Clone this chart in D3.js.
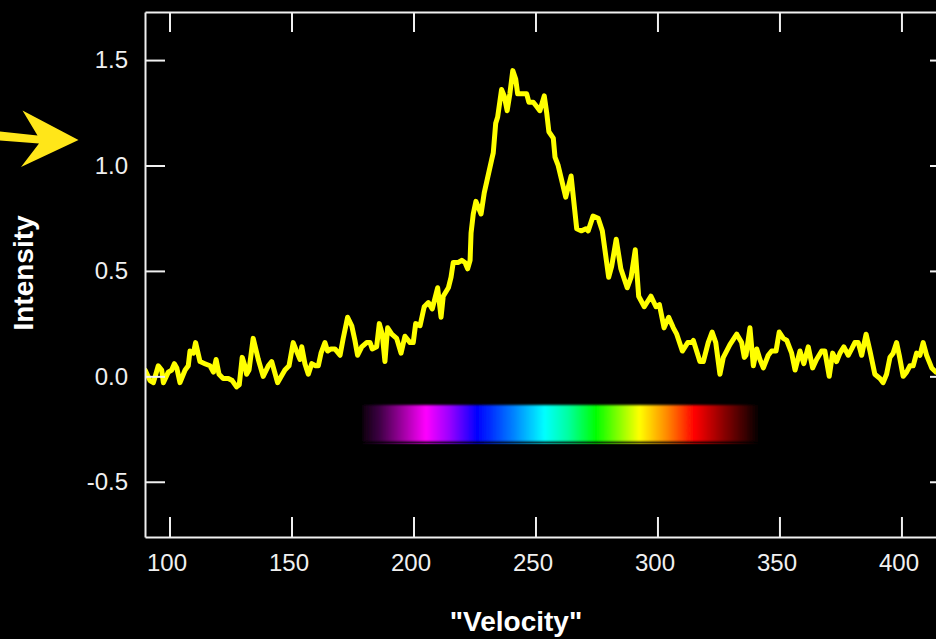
<!DOCTYPE html>
<html>
<head>
<meta charset="utf-8">
<script src="https://cdn.jsdelivr.net/npm/d3@7"></script>
<style>
  html, body { margin: 0; padding: 0; background: #000; }
  svg { display: block; }
</style>
</head>
<body>
<svg id="chart" width="936" height="639"></svg>
<script>
// ---------------- data ----------------
const velocity = [
  90.0, 92.0, 93.4, 95.4, 96.8, 97.5, 99.5, 100.9, 102.0, 103.0,
  104.3, 106.4, 107.7, 108.4, 109.8, 110.7, 112.5, 114.5, 116.6, 118.0,
  119.1, 120.3, 122.0, 124.1, 125.7, 127.5, 128.6, 129.8, 130.9, 131.6,
  132.6, 134.3, 136.4, 138.4, 140.5, 141.9, 144.3, 147.3, 149.0, 150.7,
  152.4, 153.5, 154.2, 155.5, 156.9, 158.3, 159.9, 161.0, 162.1, 163.7,
  164.8, 166.2, 167.8, 169.9, 171.2, 173.0, 174.7, 176.0, 177.1, 178.8,
  180.8, 182.2, 183.1, 184.9, 186.0, 187.2, 188.3, 189.4, 191.1, 193.1,
  194.9, 196.5, 198.6, 199.9, 200.9, 202.7, 204.4, 206.1, 207.7, 209.9,
  211.3, 212.2, 214.3, 215.4, 216.3, 218.4, 219.8, 221.1, 222.2, 223.2,
  223.6, 224.5, 225.6, 227.7, 229.0, 232.1, 232.7, 233.7, 234.5, 236.1,
  237.2, 238.4, 239.5, 240.7, 241.9, 242.7, 244.3, 246.4, 247.3, 249.1,
  250.5, 251.8, 253.6, 254.6, 255.5, 257.3, 258.0, 259.3, 262.4, 264.6,
  266.9, 268.9, 270.7, 271.6, 273.6, 275.7, 277.4, 280.0, 281.2, 283.1,
  285.0, 287.6, 289.2, 290.9, 292.3, 294.6, 297.3, 299.4, 300.8, 302.7,
  304.6, 306.5, 307.9, 310.2, 312.4, 314.0, 314.7, 317.4, 318.8, 320.8,
  322.4, 323.9, 325.6, 327.0, 329.7, 332.5, 334.5, 335.6, 336.3, 337.9,
  339.3, 340.7, 342.0, 343.4, 345.4, 346.8, 348.6, 349.9, 351.6, 353.0,
  355.0, 356.4, 358.4, 360.0, 361.8, 363.6, 365.2, 367.3, 368.6, 370.4,
  371.8, 373.4, 374.8, 376.4, 378.2, 379.6, 380.9, 382.3, 383.7, 385.5,
  387.1, 389.1, 391.2, 392.5, 393.9, 395.3, 396.6, 398.0, 399.1, 400.7,
  402.1, 403.5, 404.8, 406.2, 407.6, 408.9, 410.3, 412.4, 414.1, 417.0
];
const intensity = [
  0.03, -0.02, -0.03, 0.05, 0.03, -0.03, 0.02, 0.03, 0.06, 0.04,
  -0.03, 0.03, 0.05, 0.12, 0.11, 0.16, 0.07, 0.06, 0.05, 0.02,
  0.08, 0.01, -0.01, -0.01, -0.02, -0.05, -0.04, 0.09, 0.05, 0.01,
  0.03, 0.18, 0.08, 0.00, 0.05, 0.07, -0.03, 0.03, 0.05, 0.16,
  0.11, 0.08, 0.14, 0.06, 0.01, 0.06, 0.05, 0.05, 0.11, 0.16,
  0.12, 0.13, 0.13, 0.10, 0.18, 0.28, 0.24, 0.17, 0.10, 0.14,
  0.16, 0.16, 0.13, 0.14, 0.25, 0.20, 0.07, 0.23, 0.20, 0.18,
  0.11, 0.19, 0.16, 0.16, 0.25, 0.24, 0.33, 0.35, 0.32, 0.42,
  0.28, 0.38, 0.42, 0.47, 0.54, 0.54, 0.55, 0.54, 0.51, 0.55,
  0.68, 0.77, 0.83, 0.77, 0.87, 1.03, 1.06, 1.20, 1.23, 1.36,
  1.33, 1.26, 1.34, 1.45, 1.41, 1.34, 1.34, 1.34, 1.30, 1.30,
  1.28, 1.26, 1.33, 1.25, 1.16, 1.13, 1.04, 1.00, 0.85, 0.95,
  0.70, 0.69, 0.70, 0.69, 0.76, 0.75, 0.69, 0.47, 0.52, 0.65,
  0.51, 0.42, 0.47, 0.60, 0.38, 0.33, 0.38, 0.33, 0.34, 0.23,
  0.28, 0.23, 0.20, 0.12, 0.16, 0.16, 0.17, 0.07, 0.07, 0.16,
  0.21, 0.16, 0.01, 0.09, 0.15, 0.20, 0.16, 0.09, 0.10, 0.23,
  0.05, 0.13, 0.08, 0.04, 0.10, 0.12, 0.12, 0.21, 0.18, 0.17,
  0.11, 0.03, 0.12, 0.06, 0.14, 0.04, 0.08, 0.12, 0.12, 0.00,
  0.11, 0.07, 0.11, 0.14, 0.10, 0.13, 0.16, 0.16, 0.10, 0.20,
  0.12, 0.01, -0.01, -0.03, 0.01, 0.09, 0.11, 0.16, 0.10, 0.00,
  0.02, 0.05, 0.05, 0.11, 0.10, 0.16, 0.10, 0.04, 0.02, 0.01
];
const xTicks = [100, 150, 200, 250, 300, 350, 400];
const yTicks = [-0.5, 0.0, 0.5, 1.0, 1.5];
const yTickLabels = ["-0.5", "0.0", "0.5", "1.0", "1.5"];
const xDomain = [89.96, 419.9];
const yDomain = [-0.762, 1.728];
// spectrum bar extents (data units)
const spectrumX = [179.2, 341.2];
const spectrumY = [-0.136, -0.310];
const spectrumStops = [
  { offset: 0.00, color: "#100010" },
  { offset: 0.04, color: "#3a0040" },
  { offset: 0.16, color: "#ff00ff" },
  { offset: 0.22, color: "#9900ff" },
  { offset: 0.29, color: "#0000ff" },
  { offset: 0.38, color: "#0080ff" },
  { offset: 0.46, color: "#00ffff" },
  { offset: 0.52, color: "#00ffa0" },
  { offset: 0.59, color: "#00ff00" },
  { offset: 0.70, color: "#ffff00" },
  { offset: 0.77, color: "#ff8800" },
  { offset: 0.84, color: "#ff0000" },
  { offset: 0.92, color: "#800000" },
  { offset: 1.00, color: "#080000" }
];
const xLabel = "\"Velocity\"";
const yLabel = "Intensity";

// ---------------- layout ----------------
const W = 936, H = 639;
const mLeft = 145, mRight = 950, mTop = 12, mBottom = 537;
const font = "'Liberation Sans', Arial, Helvetica, sans-serif";
const axisColor = "#f0f0f0";

const svg = d3.select("#chart");
svg.append("rect").attr("width", W).attr("height", H).attr("fill", "#000");

const x = d3.scaleLinear().domain(xDomain).range([mLeft, mRight]);
const y = d3.scaleLinear().domain(yDomain).range([mBottom, mTop]);

const defs = svg.append("defs");
defs.append("clipPath").attr("id", "plotclip")
  .append("rect").attr("x", mLeft).attr("y", mTop)
  .attr("width", mRight - mLeft).attr("height", mBottom - mTop);

const grad = defs.append("linearGradient").attr("id", "spec")
  .attr("x1", "0%").attr("x2", "100%").attr("y1", "0%").attr("y2", "0%");
spectrumStops.forEach(s => grad.append("stop").attr("offset", s.offset).attr("stop-color", s.color));

const blur = defs.append("filter").attr("id", "soft").attr("x", "-5%").attr("y", "-30%").attr("width", "110%").attr("height", "160%");
blur.append("feGaussianBlur").attr("stdDeviation", "1.2 0.8");

// spectrum bar
const sx0 = x(spectrumX[0]), sx1 = x(spectrumX[1]);
const sy0 = y(spectrumY[0]), sy1 = y(spectrumY[1]);
svg.append("rect")
  .attr("x", sx0).attr("y", sy0)
  .attr("width", sx1 - sx0).attr("height", sy1 - sy0)
  .attr("fill", "url(#spec)")
  .attr("filter", "url(#soft)");
svg.append("rect")
  .attr("x", sx0).attr("y", sy1 + 1.2)
  .attr("width", sx1 - sx0).attr("height", 1.3)
  .attr("fill", "url(#spec)").attr("opacity", 0.55);

// data line
const line = d3.line().x((d, i) => x(velocity[i])).y(d => y(d));
svg.append("path")
  .datum(intensity)
  .attr("clip-path", "url(#plotclip)")
  .attr("d", line)
  .attr("fill", "none")
  .attr("stroke", "#ffff00")
  .attr("stroke-width", 5)
  .attr("stroke-linejoin", "round")
  .attr("stroke-linecap", "round");

// axes
function styleAxis(g) {
  g.selectAll(".domain").attr("stroke", axisColor).attr("stroke-width", 2);
  g.selectAll(".tick line").attr("stroke", axisColor).attr("stroke-width", 2);
  g.selectAll(".tick text").attr("fill", axisColor).style("font-family", font).style("font-size", "24px");
}
const gx = svg.append("g").attr("transform", `translate(0,${mBottom})`)
  .call(d3.axisBottom(x).tickValues(xTicks).tickFormat(d3.format("d")).tickSize(-20).tickSizeOuter(0).tickPadding(17));
styleAxis(gx);
gx.selectAll(".tick text").attr("dx", "-3");

const gxTop = svg.append("g").attr("transform", `translate(0,${mTop})`)
  .call(d3.axisTop(x).tickValues(xTicks).tickFormat("").tickSize(-20).tickSizeOuter(0));
styleAxis(gxTop);

const gy = svg.append("g").attr("transform", `translate(${mLeft},0)`)
  .call(d3.axisLeft(y).tickValues(yTicks).tickFormat((d, i) => yTickLabels[i]).tickSize(-20).tickSizeOuter(0).tickPadding(17));
styleAxis(gy);

const gyR = svg.append("g").attr("transform", `translate(${mRight},0)`)
  .call(d3.axisRight(y).tickValues(yTicks).tickFormat("").tickSize(-20).tickSizeOuter(0));
styleAxis(gyR);

// axis titles
svg.append("text")
  .attr("x", 516).attr("y", 631)
  .attr("text-anchor", "middle")
  .attr("fill", "#ffffff")
  .style("font-family", font).style("font-size", "28px").style("font-weight", "bold")
  .text(xLabel);
svg.append("text")
  .attr("transform", "translate(33,273) rotate(-90)")
  .attr("text-anchor", "middle")
  .attr("fill", "#ffffff")
  .style("font-family", font).style("font-size", "28px").style("font-weight", "bold")
  .text(yLabel);

// yellow arrow annotation
svg.append("path")
  .attr("d", "M0,131.5 L37.5,135.5 L22.5,110.5 L78.5,140 L21,167 L39,143.5 L0,140.5 Z")
  .attr("fill", "#ffe619");
</script>
</body>
</html>
